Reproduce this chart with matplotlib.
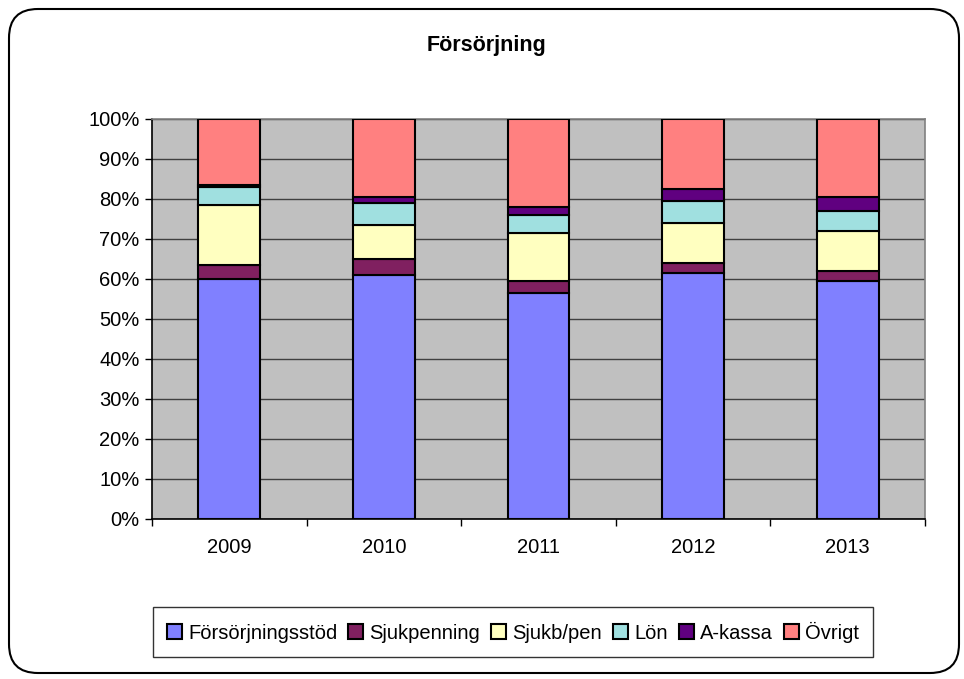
import matplotlib
matplotlib.use("Agg")
import matplotlib.pyplot as plt
from matplotlib.patches import FancyBboxPatch
from matplotlib.ticker import FixedLocator, PercentFormatter
import numpy as np

plt.rcParams['font.family'] = ['Liberation Sans', 'DejaVu Sans']

years = ["2009", "2010", "2011", "2012", "2013"]
series_names = ["Försörjningsstöd", "Sjukpenning", "Sjukb/pen", "Lön", "A-kassa", "Övrigt"]
forsorjningsstod = [60.0, 61.0, 56.5, 61.5, 59.5]
sjukpenning = [3.5, 4.0, 3.0, 2.5, 2.5]
sjukb_pen = [15.0, 8.5, 12.0, 10.0, 10.0]
lon = [4.5, 5.4, 4.4, 5.6, 5.0]
a_kassa = [0.5, 1.7, 2.1, 2.9, 3.5]
ovrigt = [16.5, 19.4, 22.0, 17.5, 19.5]
colors = ["#8080FF", "#802060", "#FFFFC0", "#A0E0E0", "#600080", "#FF8080"]

data = [forsorjningsstod, sjukpenning, sjukb_pen, lon, a_kassa, ovrigt]

fig = plt.figure(figsize=(9.64, 6.79), dpi=100)
border = FancyBboxPatch((9/964, 6/679), 950/964, 664/679,
                        boxstyle="round,pad=0,rounding_size=0.03",
                        transform=fig.transFigure, fill=False,
                        edgecolor="black", linewidth=1.5, mutation_aspect=964/679)
fig.patches.append(border)

ax = fig.add_axes([152/964, 1 - 519/679, (925 - 152)/964, (519 - 119)/679])
ax.set_facecolor("#C0C0C0")

x = np.arange(len(years))
totals = np.array([sum(col) for col in zip(*data)])
bottom = np.zeros(len(years))
for name, vals, c in zip(series_names, data, colors):
    v = np.array(vals) / totals * 100
    ax.bar(x, v, width=0.4, bottom=bottom, color=c, edgecolor="black",
           linewidth=1.5, label=name, zorder=3)
    bottom += v

ax.set_xlim(-0.5, len(years) - 0.5)
ax.set_ylim(0, 100)
ax.yaxis.set_major_locator(FixedLocator(np.arange(0, 101, 10)))
ax.yaxis.set_major_formatter(PercentFormatter(decimals=0))
ax.grid(axis="y", color="#404040", linewidth=1, zorder=1)
ax.set_xticks(x)
ax.set_xticklabels(years)
ax.xaxis.set_minor_locator(FixedLocator(np.arange(-0.5, len(years), 1)))
ax.tick_params(axis="x", which="major", length=0, pad=14, labelsize=14.5)
ax.tick_params(axis="x", which="minor", length=5, direction="out", width=1)
ax.tick_params(axis="y", length=5, direction="out", width=1, labelsize=14.5, pad=4)

for s in ["top", "right"]:
    ax.spines[s].set_color("#808080")
    ax.spines[s].set_linewidth(1.2)
for s in ["left", "bottom"]:
    ax.spines[s].set_color("black")
    ax.spines[s].set_linewidth(1.2)

fig.text(486/964, 1 - 46/679, "Försörjning", ha="center", va="center",
         fontsize=15.5, fontweight="bold")

leg = fig.legend(loc="center", bbox_to_anchor=(513/964, 1 - 632/679), ncol=6,
                 frameon=True, fancybox=False, edgecolor="black", fontsize=14.5,
                 handlelength=0.75, handleheight=0.75, handletextpad=0.3,
                 columnspacing=0.55, borderpad=0.7, borderaxespad=0)
leg.get_frame().set_linewidth(1.0)

fig.savefig("out.png", dpi=100)
